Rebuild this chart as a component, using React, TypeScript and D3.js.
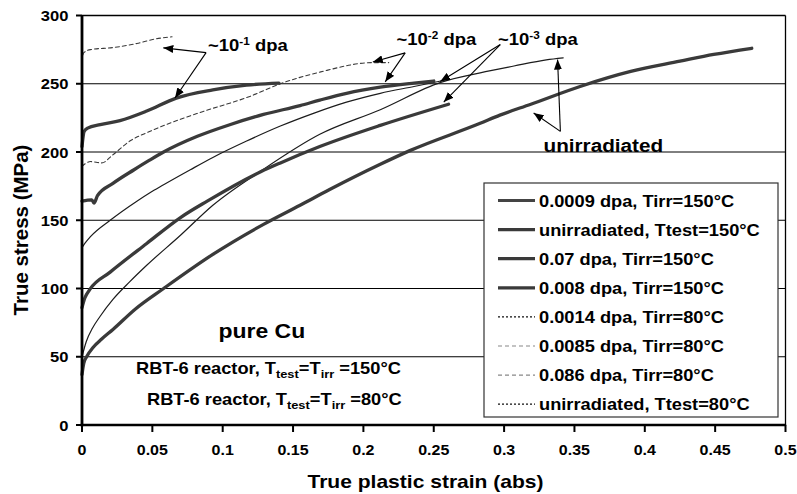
import React from "react";
import * as d3 from "d3";

// tick values / labels
const xTicks = [0, 0.05, 0.1, 0.15, 0.2, 0.25, 0.3, 0.35, 0.4, 0.45, 0.5];
const xTickLabels = ["0", "0.05", "0.1", "0.15", "0.2", "0.25", "0.3", "0.35", "0.4", "0.45", "0.5"];
const yTicks = [0, 50, 100, 150, 200, 250, 300];

// [true plastic strain, true stress MPa]
const dpa0009_150: [number, number][] = [[0, 86], [0.002, 93], [0.0057, 99.5], [0.02, 112], [0.046, 133], [0.07, 152], [0.089, 164], [0.127, 185.5], [0.141, 192], [0.169, 204], [0.212, 219.5], [0.2605, 235]];
const unirr_150: [number, number][] = [[0, 37], [0.0012, 45], [0.0033, 50], [0.008, 57], [0.014, 63], [0.022, 70], [0.038, 85], [0.058, 100], [0.093, 125], [0.129, 147], [0.155, 161], [0.176, 172.5], [0.212, 191], [0.233, 201], [0.283, 221], [0.297, 227], [0.319, 235], [0.354, 248], [0.39, 259], [0.425, 266.5], [0.449, 271.5], [0.476, 276]];
const dpa007_150: [number, number][] = [[0, 204], [0.0015, 215], [0.004, 217.5], [0.013, 220], [0.027, 223], [0.046, 230], [0.067, 239.5], [0.093, 245.5], [0.117, 249], [0.14, 250.5]];
const dpa0008_150: [number, number][] = [[0, 164], [0.007, 165], [0.0085, 162.5], [0.011, 168], [0.022, 177], [0.037, 187], [0.048, 194], [0.058, 200], [0.082, 211.5], [0.105, 220], [0.129, 227.5], [0.155, 234], [0.169, 238], [0.188, 243], [0.212, 247.5], [0.236, 250.5], [0.25, 252]];
const dpa00014_80: [number, number][] = [[0, 130], [0.002, 133], [0.006, 138], [0.02, 150], [0.039, 164], [0.048, 170], [0.058, 176], [0.077, 187], [0.093, 196], [0.117, 208], [0.141, 219], [0.165, 228.5], [0.188, 236.5], [0.212, 243], [0.236, 248], [0.255, 252]];
const dpa00085_80: [number, number][] = [[0, 189.5], [0.006, 193], [0.014, 192], [0.022, 198], [0.034, 208], [0.048, 215], [0.07, 224], [0.084, 229], [0.12, 241], [0.141, 250], [0.169, 258.5], [0.207, 265.5], [0.218, 265.5]];
const dpa0086_80: [number, number][] = [[0, 266], [0.001, 272.5], [0.006, 275], [0.022, 276.5], [0.039, 279.5], [0.053, 283], [0.064, 284.4]];
const unirr_80: [number, number][] = [[0, 50], [0.003, 61], [0.0075, 71], [0.0128, 79.5], [0.022, 92], [0.034, 105], [0.046, 117], [0.07, 139], [0.093, 161], [0.127, 186], [0.169, 213], [0.212, 231], [0.255, 251], [0.283, 258], [0.307, 263], [0.33, 267.5], [0.342, 269]];

const legendLabels = [
    "0.0009 dpa, Tirr=150°C",
    "unirradiated, Ttest=150°C",
    "0.07 dpa, Tirr=150°C",
    "0.008 dpa, Tirr=150°C",
    "0.0014 dpa, Tirr=80°C",
    "0.0085 dpa, Tirr=80°C",
    "0.086 dpa, Tirr=80°C",
    "unirradiated, Ttest=80°C"
];

// arrow annotations: origin then tips, data units
const arrow10m1: [number, number][] = [[0.0882, 272.8], [0.0578, 276.3], [0.0661, 239.6]];
const arrow10m2: [number, number][] = [[0.2297, 272.6], [0.2067, 266], [0.2155, 251.4]];
const arrow10m3: [number, number][] = [[0.2973, 278.7], [0.2546, 251.6], [0.2571, 236.6]];
const arrowUnirr: [number, number][] = [[0.34, 215.1], [0.338, 267.7], [0.321, 228.6]];

const FONT = "'Liberation Sans', Arial, sans-serif";
const SX = 1.12; // picture is slightly stretched sideways

const thick = { stroke: "#3a3a3a", width: 3.3, dash: "" };
const thin = { stroke: "#1c1c1c", width: 1.2, dash: "" };
const dashed = { stroke: "#3a3a3a", width: 1.1, dash: "4,3" };

function Txt(props: any) {
    const { x, y, size, anchor, children } = props;
    return (
        <text transform={`translate(${x},${y}) scale(${SX},1)`} fontSize={size} textAnchor={anchor || "start"}>
            {children}
        </text>
    );
}

export default function App() {
    const W = 797, H = 494;
    const x = d3.scaleLinear().domain([0, 0.5]).range([82, 785.5]);
    const y = d3.scaleLinear().domain([0, 300]).range([425, 15.5]);
    const line = d3.line<[number, number]>().x(d => x(d[0])).y(d => y(d[1])).curve(d3.curveMonotoneX);

    const series = [
        { data: dpa0086_80, st: dashed },
        { data: dpa00085_80, st: dashed },
        { data: unirr_80, st: thin },
        { data: dpa00014_80, st: thin },
        { data: unirr_150, st: thick },
        { data: dpa0009_150, st: thick },
        { data: dpa0008_150, st: thick },
        { data: dpa007_150, st: thick }
    ];

    const legendStyles = [
        { stroke: "#444", width: 3, dash: "" },
        { stroke: "#3a3a3a", width: 3.3, dash: "" },
        { stroke: "#3a3a3a", width: 3.3, dash: "" },
        { stroke: "#3a3a3a", width: 3.3, dash: "" },
        { stroke: "#111", width: 1.2, dash: "2,2" },
        { stroke: "#888", width: 1.2, dash: "4,3" },
        { stroke: "#888", width: 1.2, dash: "4,3" },
        { stroke: "#111", width: 1.2, dash: "2,2" }
    ];

    const arrows = [arrow10m1, arrow10m2, arrow10m3, arrowUnirr];

    const lg = { x: 484, y: 183, w: 294, h: 234, row0: 200.5, step: 29.1 };

    return (
        <svg width={W} height={H} style={{ position: "absolute", left: 0, top: 0, background: "#fff" }}
            fontFamily={FONT} fontWeight="bold">
            <defs>
                <marker id="ah" viewBox="0 0 10 8" refX="10" refY="4" markerWidth="10" markerHeight="8"
                    markerUnits="userSpaceOnUse" orient="auto">
                    <path d="M0,0 L10,4 L0,8 Z" fill="#000" />
                </marker>
            </defs>
            <rect width={W} height={H} fill="#fff" />

            {/* grid */}
            {yTicks.filter(t => t > 0 && t < 300).map(t => (
                <line key={t} x1={x(0)} x2={x(0.5)} y1={y(t)} y2={y(t)} stroke="#000" strokeWidth={1} />
            ))}
            <line x1={x(0)} x2={x(0.5)} y1={y(300)} y2={y(300)} stroke="#000" strokeWidth={1.3} />
            <line x1={x(0.5)} x2={x(0.5)} y1={y(300)} y2={y(0)} stroke="#000" strokeWidth={1.3} />

            {/* curves */}
            {series.map((s, i) => (
                <path key={i} d={line(s.data) || ""} fill="none" stroke={s.st.stroke} strokeWidth={s.st.width}
                    strokeDasharray={s.st.dash || undefined} strokeLinejoin="round" strokeLinecap="round" />
            ))}

            {/* axes */}
            <line x1={x(0)} x2={x(0)} y1={y(300) - 0.6} y2={y(0) + 1.2} stroke="#000" strokeWidth={2.8} />
            <line x1={x(0) - 1.4} x2={x(0.5) + 0.6} y1={y(0)} y2={y(0)} stroke="#000" strokeWidth={2.6} />
            {yTicks.map(t => (
                <g key={t}>
                    <line x1={x(0) - 6} x2={x(0)} y1={y(t)} y2={y(t)} stroke="#000" strokeWidth={2} />
                    <Txt x={68.5} y={y(t) + 5.5} size={14.8} anchor="end">{t}</Txt>
                </g>
            ))}
            {xTicks.map((t, i) => (
                <g key={t}>
                    <line x1={x(t)} x2={x(t)} y1={y(0)} y2={y(0) + 7} stroke="#000" strokeWidth={2} />
                    <Txt x={x(t)} y={455} size={14.3} anchor="middle">{xTickLabels[i]}</Txt>
                </g>
            ))}
            <Txt x={425.5} y={488} size={18.8} anchor="middle">True plastic strain (abs)</Txt>
            <text transform="translate(28,230) rotate(-90)" fontSize={20.5} textAnchor="middle">True stress (MPa)</text>

            {/* annotations */}
            {arrows.map((a, i) => (
                <g key={i}>
                    {a.slice(1).map((tip, j) => (
                        <line key={j} x1={x(a[0][0])} y1={y(a[0][1])} x2={x(tip[0])} y2={y(tip[1])}
                            stroke="#000" strokeWidth={1.1} markerEnd="url(#ah)" />
                    ))}
                </g>
            ))}
            <Txt x={208} y={50.5} size={16.5}>~10<tspan dy={-6} fontSize={10.5}>-1</tspan><tspan dy={6}> dpa</tspan></Txt>
            <Txt x={396.5} y={44.5} size={16.5}>~10<tspan dy={-6} fontSize={10.5}>-2</tspan><tspan dy={6}> dpa</tspan></Txt>
            <Txt x={498} y={44.5} size={16.5}>~10<tspan dy={-6} fontSize={10.5}>-3</tspan><tspan dy={6}> dpa</tspan></Txt>
            <Txt x={543.5} y={151.5} size={18.5}>unirradiated</Txt>

            <Txt x={218.5} y={338} size={20.5}>pure Cu</Txt>
            <Txt x={136} y={374} size={16.3}>RBT-6 reactor, T<tspan dy={4} fontSize={11.5}>test</tspan><tspan dy={-4}>=T</tspan><tspan dy={4} fontSize={11.5}>irr</tspan><tspan dy={-4}> =150°C</tspan></Txt>
            <Txt x={147} y={405} size={16.3}>RBT-6 reactor, T<tspan dy={4} fontSize={11.5}>test</tspan><tspan dy={-4}>=T</tspan><tspan dy={4} fontSize={11.5}>irr</tspan><tspan dy={-4}> =80°C</tspan></Txt>

            {/* legend */}
            <rect x={lg.x} y={lg.y} width={lg.w} height={lg.h} fill="#fff" stroke="#333" strokeWidth={1.2} />
            {legendLabels.map((lab, i) => {
                const cy = lg.row0 + i * lg.step;
                const st = legendStyles[i];
                return (
                    <g key={lab}>
                        <line x1={498} x2={535} y1={cy} y2={cy} stroke={st.stroke} strokeWidth={st.width}
                            strokeDasharray={st.dash || undefined} />
                        <Txt x={539} y={cy + 6} size={16.3}>{lab}</Txt>
                    </g>
                );
            })}
        </svg>
    );
}
